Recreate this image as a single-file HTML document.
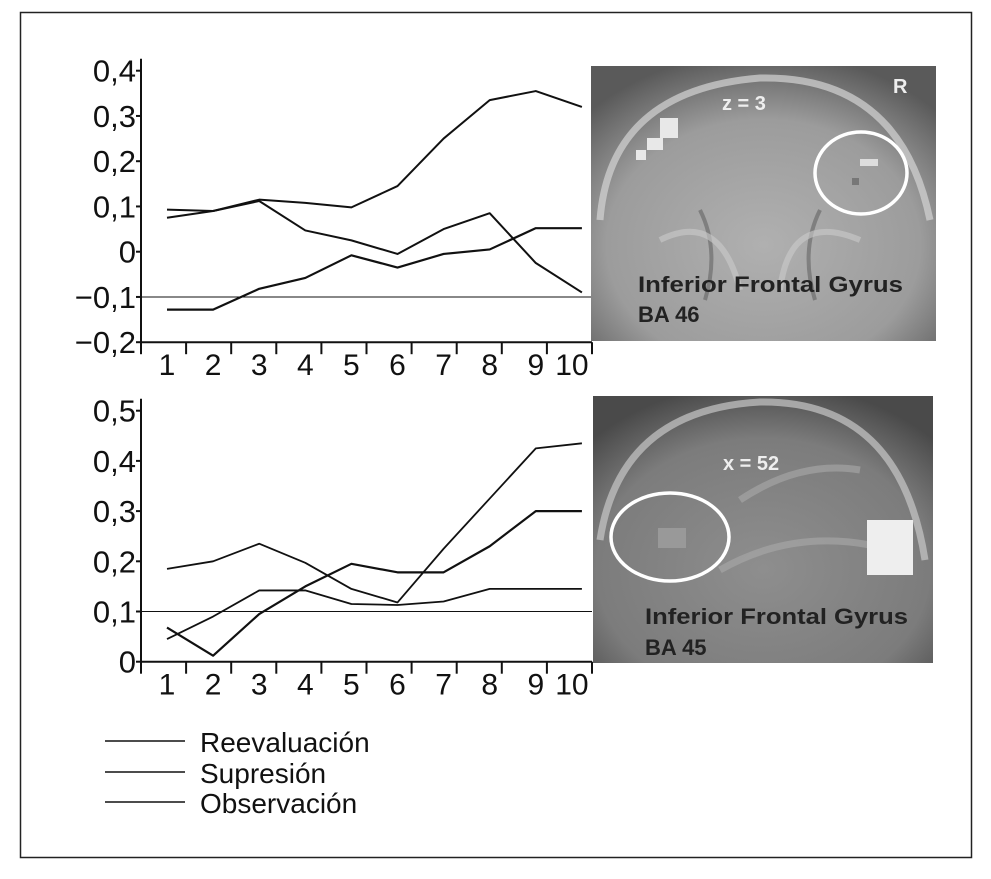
<!DOCTYPE html>
<html><head><meta charset="utf-8">
<style>
body{margin:0;background:#fff;width:991px;height:879px;overflow:hidden;font-family:"Liberation Sans",sans-serif}
svg{position:absolute;left:0;top:0}
</style></head><body>
<svg width="991" height="879">
<defs>
<radialGradient id="g1" cx="50%" cy="65%" r="70%">
<stop offset="0" stop-color="#b0b0b0"/><stop offset="0.65" stop-color="#9c9c9c"/><stop offset="1" stop-color="#5a5a5a"/></radialGradient>
<radialGradient id="g2" cx="50%" cy="65%" r="70%">
<stop offset="0" stop-color="#8e8e8e"/><stop offset="0.7" stop-color="#7c7c7c"/><stop offset="1" stop-color="#4a4a4a"/></radialGradient>
<clipPath id="c1"><rect x="591" y="66" width="345" height="275"/></clipPath>
<clipPath id="c2"><rect x="593" y="396" width="340" height="267"/></clipPath>
</defs>
<rect x="20.5" y="12.5" width="951" height="845" fill="none" stroke="#222" stroke-width="1.5"/>
<g id="top"></g>
<g id="bot"></g>

<g clip-path="url(#c1)">
<rect x="591" y="66" width="345" height="275" fill="url(#g1)"/>
<path d="M600 220 Q610 90 760 78 Q900 75 930 220" fill="none" stroke="#d4d4d4" stroke-width="7" opacity="0.7"/>
<path d="M700 210 Q720 250 705 300 M820 210 Q800 250 815 300" fill="none" stroke="#555" stroke-width="4" opacity="0.5"/>
<path d="M660 240 Q720 210 740 290 M860 240 Q790 210 780 290" fill="none" stroke="#ccc" stroke-width="6" opacity="0.6"/>
<rect x="660" y="118" width="18" height="20" fill="#e8e8e8"/><rect x="647" y="138" width="16" height="12" fill="#e8e8e8"/><rect x="636" y="150" width="10" height="10" fill="#e8e8e8"/>
<ellipse cx="861" cy="173" rx="46" ry="41" fill="none" stroke="#fff" stroke-width="3.5"/>
<rect x="860" y="159" width="18" height="7" fill="#ddd"/><rect x="852" y="178" width="7" height="7" fill="#777"/>
<text x="722" y="110" font-size="20" font-weight="bold" fill="#eee">z = 3</text>
<text x="893" y="93" font-size="20" font-weight="bold" fill="#eee">R</text>
<text x="638" y="292" font-size="22" font-weight="bold" fill="#222" textLength="265" lengthAdjust="spacingAndGlyphs">Inferior Frontal Gyrus</text>
<text x="638" y="322" font-size="22" font-weight="bold" fill="#222">BA 46</text>
</g>
<g clip-path="url(#c2)">
<rect x="593" y="396" width="340" height="267" fill="url(#g2)"/>
<path d="M600 540 Q620 410 760 402 Q900 400 925 560" fill="none" stroke="#c8c8c8" stroke-width="7" opacity="0.7"/>
<path d="M740 500 Q800 460 860 470 M720 570 Q790 530 870 545" fill="none" stroke="#aaa" stroke-width="7" opacity="0.6"/>
<ellipse cx="670" cy="537" rx="59" ry="44" fill="none" stroke="#fff" stroke-width="3.5"/>
<rect x="658" y="528" width="28" height="20" fill="#999"/>
<rect x="867" y="520" width="46" height="55" fill="#eee"/>
<text x="723" y="470" font-size="20" font-weight="bold" fill="#eee">x = 52</text>
<text x="645" y="624" font-size="22" font-weight="bold" fill="#222" textLength="263" lengthAdjust="spacingAndGlyphs">Inferior Frontal Gyrus</text>
<text x="645" y="655" font-size="22" font-weight="bold" fill="#222">BA 45</text>
</g>

<g>
<line x1="105" y1="741" x2="185" y2="741" stroke="#111" stroke-width="1.5"/>
<text x="200" y="752" font-size="28" fill="#111">Reevaluación</text>
<line x1="105" y1="772" x2="185" y2="772" stroke="#111" stroke-width="1.5"/>
<text x="200" y="783" font-size="28" fill="#111">Supresión</text>
<line x1="105" y1="802" x2="185" y2="802" stroke="#111" stroke-width="1.5"/>
<text x="200" y="813" font-size="28" fill="#111">Observación</text>
</g>
</svg>
<script>
const categories=[1,2,3,4,5,6,7,8,9,10];
const topA=[0.075,0.09,0.115,0.108,0.098,0.145,0.25,0.335,0.355,0.32];
const topB=[0.093,0.09,0.112,0.047,0.025,-0.005,0.05,0.085,-0.025,-0.09];
const topC=[-0.128,-0.128,-0.082,-0.058,-0.008,-0.035,-0.005,0.005,0.052,0.052];
const topTicks=[0.4,0.3,0.2,0.1,0,-0.1,-0.2];
const topTickLabels=["0,4","0,3","0,2","0,1","0","\u22120,1","\u22120,2"];
const botA=[0.045,0.09,0.142,0.142,0.115,0.113,0.12,0.145,0.145,0.145];
const botB=[0.185,0.2,0.235,0.197,0.145,0.118,0.225,0.325,0.425,0.435];
const botC=[0.068,0.012,0.095,0.15,0.195,0.178,0.178,0.23,0.3,0.3];
const botTicks=[0.5,0.4,0.3,0.2,0.1,0];
const botTickLabels=["0,5","0,4","0,3","0,2","0,1","0"];
const NS="http://www.w3.org/2000/svg";
function mk(tag,attrs,parent){const e=document.createElementNS(NS,tag);for(const k in attrs)e.setAttribute(k,attrs[k]);parent.appendChild(e);return e;}
function chart(g,y0,vmax,vmin,ticks,labels,series,refVal,widths){
  const yTop=y0, pxPer=(vmax===0.4?45.25:50.2);
  const y=v=>yTop+(vmax-v)*10*pxPer;
  const x=i=>167+i*46.1;
  const yBase=y(vmin);
  const ax=mk('line',{x1:141,y1:yTop-12,x2:141,y2:yBase,stroke:'#111','stroke-width':2},g);
  
  
  const xa=mk('line',{x1:141,y1:yBase,x2:592,y2:yBase,stroke:'#111','stroke-width':2},g);
  
  
  ticks.forEach((t,k)=>{
    mk('line',{x1:136,y1:y(t),x2:141,y2:y(t),stroke:'#111','stroke-width':2},g);
    const tx=mk('text',{x:136,y:y(t)+11,'font-size':31,'text-anchor':'end',fill:'#111'},g);
    tx.textContent=labels[k];
    
    
  });
  for(let k=0;k<=10;k++){mk('line',{x1:141+k*45.1,y1:yBase,x2:141+k*45.1,y2:yBase+12,stroke:'#111','stroke-width':2},g);}
  categories.forEach((c,i)=>{
    const tx=mk('text',{x:x(i)-(i===9?10:0),y:yBase+33,'font-size':30,'text-anchor':'middle',fill:'#111'},g);
    tx.textContent=c;
    
    
  });
  const rl=mk('line',{x1:141,y1:y(refVal),x2:592,y2:y(refVal),stroke:'#111','stroke-width':1},g);
  
  
  series.forEach((s,j)=>{
    const pts=s.map((v,i)=>x(i)+','+y(v)).join(' ');
    const p=mk('polyline',{points:pts,fill:'none',stroke:'#111','stroke-width':widths[j],'stroke-linejoin':'round'},g);
    
    
  });
}
chart(document.getElementById('top'),70.7,0.4,-0.2,topTicks,topTickLabels,[topA,topB,topC],-0.1,[2,2,2.2]);
chart(document.getElementById('bot'),410.7,0.5,0,botTicks,botTickLabels,[botA,botB,botC],0.1,[1.8,1.8,2.2]);
</script>
</body></html>
